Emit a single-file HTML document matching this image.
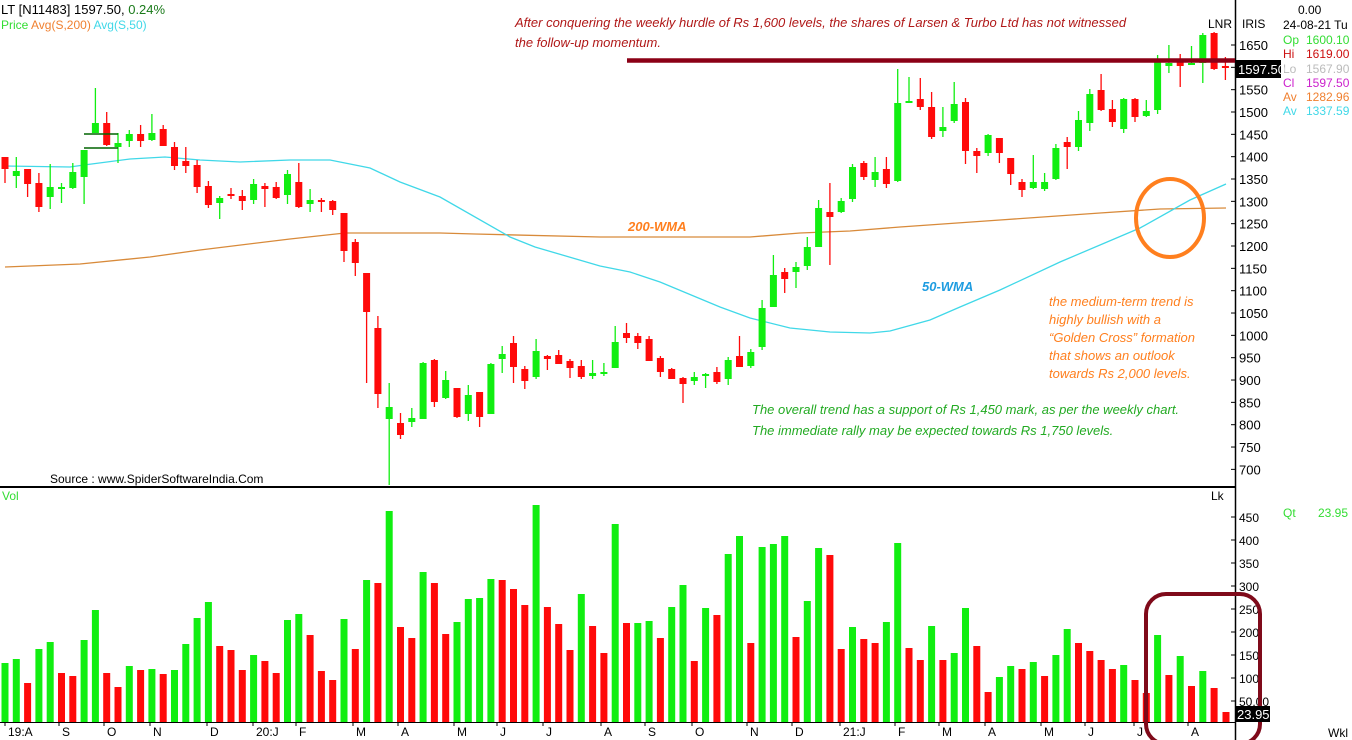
<!DOCTYPE html>
<html><head><meta charset="utf-8">
<style>
html,body{margin:0;padding:0;background:#fff;}
svg{display:block;font-family:"Liberation Sans","DejaVu Sans",sans-serif;}
</style></head>
<body>
<svg id="s" width="1352" height="740" xmlns="http://www.w3.org/2000/svg">
<rect width="1352" height="740" fill="#fff"/>
<g id="ma"></g>
<g id="c"></g>
<g id="v"></g>
<!-- axes -->
<line x1="1235.5" y1="0" x2="1235.5" y2="740" stroke="#000" stroke-width="1.5"/>
<line x1="0" y1="487" x2="1235" y2="487" stroke="#000" stroke-width="2"/>
<line x1="0" y1="722.5" x2="1235" y2="722.5" stroke="#000" stroke-width="1"/>
<g id="ax" font-size="13" fill="#000"></g>
<!-- resistance -->
<line x1="627" y1="60.5" x2="1235" y2="60.5" stroke="#8b0016" stroke-width="4.5"/>
<line x1="84" y1="134" x2="118" y2="134" stroke="#006400" stroke-width="1.5"/>
<line x1="84" y1="148" x2="118" y2="148" stroke="#006400" stroke-width="1.5"/>
<ellipse cx="1170" cy="218" rx="34" ry="39" fill="none" stroke="#ff7f1e" stroke-width="4"/>
<rect x="1146" y="594" width="114" height="150" rx="20" fill="none" stroke="#7f0a1a" stroke-width="4"/>
<!-- header -->
<text x="1" y="14" font-size="13" fill="#000">LT [N11483] 1597.50,  <tspan fill="#1a7a1a">0.24%</tspan></text>
<text x="1" y="29" font-size="12"><tspan fill="#33dd33">Price</tspan>  <tspan fill="#f08030">Avg(S,200)</tspan>  <tspan fill="#40d8e8">Avg(S,50)</tspan></text>
<text x="2" y="500" font-size="12" fill="#33dd33">Vol</text>
<text x="1211" y="500" font-size="12" fill="#000">Lk</text>
<text x="1208" y="28" font-size="12" fill="#000">LNR</text>
<text x="1242" y="28" font-size="12" fill="#000">IRIS</text>
<text x="1298" y="14" font-size="12" fill="#000">0.00</text>
<text x="1283" y="29" font-size="12" fill="#000">24-08-21 Tu</text>
<g font-size="12">
<text x="1283" y="44" fill="#33dd33">Op</text><text x="1306" y="44" fill="#33dd33">1600.10</text>
<text x="1283" y="58" fill="#cc1010">Hi</text><text x="1306" y="58" fill="#cc1010">1619.00</text>
<text x="1283" y="73" fill="#bbbbbb">Lo</text><text x="1306" y="73" fill="#bbbbbb">1567.90</text>
<text x="1283" y="87" fill="#cc22cc">Cl</text><text x="1306" y="87" fill="#cc22cc">1597.50</text>
<text x="1283" y="101" fill="#f08030">Av</text><text x="1306" y="101" fill="#f08030">1282.96</text>
<text x="1283" y="115" fill="#40d8e8">Av</text><text x="1306" y="115" fill="#40d8e8">1337.59</text>
<text x="1283" y="517" fill="#33dd33">Qt</text><text x="1318" y="517" fill="#33dd33">23.95</text>
</g>
<rect x="1236" y="60" width="45" height="18" fill="#000"/>
<text x="1238" y="74" font-size="13" fill="#fff">1597.50</text>
<rect x="1236" y="706" width="34" height="16" fill="#000"/>
<text x="1237" y="719" font-size="13" fill="#fff">23.95</text>
<!-- annotations -->
<g font-style="italic" font-size="13">
<text x="515" y="27" fill="#b01818">After conquering the weekly hurdle of Rs 1,600 levels, the shares of Larsen &amp; Turbo Ltd has not witnessed</text>
<text x="515" y="47" fill="#b01818">the follow-up momentum.</text>
<text x="628" y="231" fill="#ff7f1e" font-weight="bold">200-WMA</text>
<text x="922" y="291" fill="#1e9ce0" font-weight="bold">50-WMA</text>
<text x="1049" y="306" fill="#ff7f1e">the medium-term trend is</text>
<text x="1049" y="324" fill="#ff7f1e">highly bullish with a</text>
<text x="1049" y="342" fill="#ff7f1e">“Golden Cross” formation</text>
<text x="1049" y="360" fill="#ff7f1e">that shows an outlook</text>
<text x="1049" y="378" fill="#ff7f1e">towards Rs 2,000 levels.</text>
<text x="752" y="414" fill="#22aa22">The overall trend has a support of Rs 1,450 mark, as per the weekly chart.</text>
<text x="752" y="435" fill="#22aa22">The immediate rally may be expected towards Rs 1,750 levels.</text>
</g>
<text x="50" y="483" font-size="12" fill="#000">Source : www.SpiderSoftwareIndia.Com</text>
</svg>
<script>
var NS="http://www.w3.org/2000/svg";
function el(p,t,a){var e=document.createElementNS(NS,t);for(var k in a)e.setAttribute(k,a[k]);p.appendChild(e);return e;}
var G="#11ee11",R="#ff0a0a";
var C=[[157,169,157,183,'r'],[171,176,157,188,'g'],[169,184,169,197,'r'],[183,207,173,212,'r'],[187,197,164,209,'g'],[187,189,183,203,'g'],[172,188,163,189,'g'],[150,177,150,204,'g'],[123,133,88,133,'g'],[123,145,112,146,'r'],
[143,147,133,163,'g'],[134,141,130,147,'g'],[134,141,125,147,'r'],[133,140,114,141,'g'],[129,146,125,146,'r'],[147,166,142,170,'r'],[161,166,147,173,'r'],[165,187,160,193,'r'],[186,205,181,208,'r'],[198,203,196,219,'g'],
[194,196,188,199,'r'],[196,201,190,210,'r'],[184,200,179,204,'g'],[186,189,183,207,'r'],[187,198,182,199,'r'],[174,195,170,204,'g'],[182,207,163,208,'r'],[200,204,189,212,'g'],[200,202,198,212,'r'],[201,210,200,215,'r'],
[213,251,213,262,'r'],[242,263,239,276,'r'],[273,312,273,383,'r'],[328,394,316,408,'r'],[407,419,383,485,'g'],[423,435,413,439,'r'],[418,422,408,427,'g'],[363,419,362,419,'g'],[360,402,359,407,'r'],[380,398,371,399,'g'],
[388,417,388,418,'r'],[395,414,385,421,'g'],[392,417,392,427,'r'],[364,414,363,414,'g'],[354,359,346,373,'g'],[343,367,336,383,'r'],[369,381,366,389,'r'],[351,377,339,379,'g'],[356,359,355,370,'r'],[355,364,350,364,'r'],
[361,368,359,378,'r'],[366,377,360,379,'r'],[373,376,360,379,'g'],[372,374,363,376,'g'],[342,368,326,368,'g'],[333,338,323,343,'r'],[336,343,333,349,'r'],[339,361,336,361,'r'],[358,372,356,377,'r'],[369,379,368,379,'r'],
[378,384,377,403,'r'],[377,381,372,385,'g'],[374,376,373,388,'g'],[372,382,367,384,'r'],[360,379,357,385,'g'],[356,367,336,367,'r'],[352,366,349,368,'g'],[308,347,300,350,'g'],[275,307,255,307,'g'],[272,279,268,293,'r'],
[267,272,262,288,'g'],[247,266,237,270,'g'],[208,247,200,247,'g'],[212,217,183,265,'r'],[201,212,198,213,'g'],[167,199,164,202,'g'],[163,177,161,180,'r'],[172,180,157,187,'g'],[169,184,157,188,'r'],[103,181,69,182,'g'],
[101,102,77,102,'g'],[99,107,78,110,'r'],[107,137,92,139,'r'],[127,131,107,137,'g'],[104,121,82,123,'g'],[102,151,98,164,'r'],[151,156,148,173,'r'],[135,153,134,156,'g'],[138,153,138,163,'r'],[158,174,158,185,'r'],
[182,190,179,197,'r'],[182,188,155,189,'g'],[182,189,173,191,'g'],[148,179,144,180,'g'],[142,147,137,169,'r'],[120,147,111,151,'g'],[94,123,89,131,'g'],[90,110,74,111,'r'],[109,122,100,127,'r'],[99,129,98,133,'g'],
[99,117,98,122,'r'],[111,116,100,117,'g'],[62,110,55,114,'g'],[63,66,45,73,'g'],[62,66,54,87,'r'],[63,64,46,64,'g'],[35,63,33,83,'g'],[33,69,32,70,'r'],[66,67,57,80,'r']];
var V=[[663,'g'],[659,'g'],[683,'r'],[649,'g'],[642,'g'],[673,'r'],[676,'r'],[640,'g'],[610,'g'],[673,'r'],
[687,'r'],[666,'g'],[670,'r'],[669,'g'],[674,'r'],[670,'g'],[644,'g'],[618,'g'],[602,'g'],[646,'r'],
[650,'r'],[670,'r'],[655,'g'],[661,'r'],[673,'r'],[620,'g'],[614,'g'],[635,'r'],[671,'r'],[680,'r'],
[619,'g'],[649,'r'],[580,'g'],[583,'r'],[511,'g'],[627,'r'],[638,'r'],[572,'g'],[583,'r'],[634,'r'],
[622,'g'],[599,'g'],[598,'g'],[579,'g'],[580,'r'],[589,'r'],[605,'r'],[505,'g'],[607,'r'],[624,'r'],
[650,'r'],[594,'g'],[626,'r'],[653,'r'],[524,'g'],[623,'r'],[623,'g'],[621,'g'],[638,'r'],[607,'g'],
[585,'g'],[661,'r'],[608,'g'],[615,'r'],[554,'g'],[536,'g'],[643,'r'],[547,'g'],[544,'g'],[536,'g'],
[637,'r'],[601,'g'],[548,'g'],[555,'r'],[649,'r'],[627,'g'],[639,'r'],[643,'r'],[622,'g'],[543,'g'],
[648,'r'],[660,'r'],[626,'g'],[660,'r'],[653,'g'],[608,'g'],[646,'r'],[692,'r'],[677,'g'],[666,'g'],
[669,'r'],[662,'g'],[676,'r'],[655,'g'],[629,'g'],[643,'r'],[651,'r'],[660,'r'],[669,'r'],[665,'g'],
[680,'r'],[693,'r'],[635,'g'],[675,'r'],[656,'g'],[686,'r'],[671,'g'],[688,'r'],[712,'r']];
var cg=document.getElementById('c'),vg=document.getElementById('v'),mg=document.getElementById('ma'),ax=document.getElementById('ax');
function X(i){return 5+i*11.3;}
C.forEach(function(d,i){var x=X(i),col=d[4]=='g'?G:R;
 el(cg,'line',{x1:x,y1:d[2],x2:x,y2:d[3],stroke:col,'stroke-width':1.3});
 el(cg,'rect',{x:x-3.5,y:d[0],width:7,height:Math.max(2,d[1]-d[0]),fill:col});});
V.forEach(function(d,i){var x=X(i);if(i==108)x=1226;
 el(vg,'rect',{x:x-3.5,y:d[0],width:7,height:722-d[0],fill:d[1]=='g'?G:R});});
var cy=[[5,166],[70,167],[84,165],[130,159],[165,157],[200,160],[240,162],[290,160],[330,160],[345,163],[370,168],[400,182],[440,197],[510,237],[535,247],[600,266],[630,272],[660,282],[720,307],[750,318],[790,328],[830,332],[870,333],[890,331],[930,320],[960,307],[1000,290],[1060,262],[1140,228],[1190,200],[1226,184]];
var og=[[5,267],[80,264],[150,257],[200,250],[290,239],[345,233],[440,233],[475,234],[600,237],[750,237],[800,233],[850,231],[900,227],[1000,220],[1100,213],[1160,209],[1226,208]];
el(mg,'polyline',{points:og.map(function(p){return p.join(',')}).join(' '),fill:'none',stroke:'#d88a3a','stroke-width':1.3});
el(mg,'polyline',{points:cy.map(function(p){return p.join(',')}).join(' '),fill:'none',stroke:'#40d8e8','stroke-width':1.3});
for(var p=700;p<=1650;p+=50){var y=45+(1650-p)*0.4467;
 el(ax,'line',{x1:1231,y1:y,x2:1235,y2:y,stroke:'#000'});
 if(p==1600)continue;
 var t=el(ax,'text',{x:1239,y:y+5});t.textContent=p;}
for(var q=50;q<=450;q+=50){var y=517+(450-q)*0.46;
 el(ax,'line',{x1:1231,y1:y,x2:1235,y2:y,stroke:'#000'});
 var t=el(ax,'text',{x:1239,y:y+5,'font-size':12});t.textContent=q.toFixed(q<100?2:0).replace('.00','.00');}
var L=[['19:A',8],['S',62],['O',107],['N',153],['D',210],['20:J',256],['F',299],['M',356],['A',401],['M',457],['J',500],['J',546],['A',604],['S',648],['O',695],['N',750],['D',795],['21:J',843],['F',898],['M',942],['A',988],['M',1044],['J',1088],['J',1137],['A',1191]];
L.forEach(function(l){var t=el(ax,'text',{x:l[1],y:736,'font-size':12});t.textContent=l[0];
 el(ax,'line',{x1:l[1]-3,y1:722,x2:l[1]-3,y2:726,stroke:'#000'});});
var w=el(ax,'text',{x:1328,y:737,'font-size':12});w.textContent='Wkl';
</script>
</body></html>
